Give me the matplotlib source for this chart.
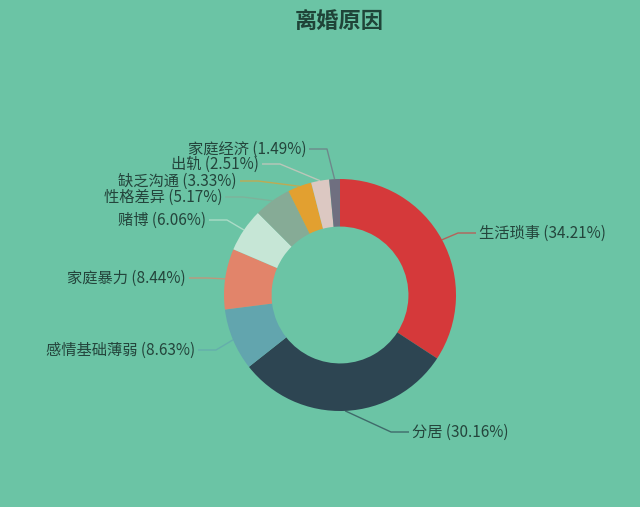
import matplotlib
matplotlib.use('Agg')
import matplotlib.pyplot as plt
import numpy as np

plt.rcParams['font.family'] = ['Noto Sans CJK SC', 'DejaVu Sans']

# data
reasons = ['生活琐事', '分居', '感情基础薄弱', '家庭暴力', '赌博',
           '性格差异', '缺乏沟通', '出轨', '家庭经济']
shares = [34.21, 30.16, 8.63, 8.44, 6.06, 5.17, 3.33, 2.51, 1.49]
colors = ['#d5393a', '#2d4552', '#62a5ae', '#e2846a', '#c6e6d6',
          '#86ab96', '#e2a030', '#dcc8c2', '#6f6f80']

# layout (pixels, origin top-left): text edge x, text centre y
label_pos = [(479, 233), (412, 432), (195, 350), (186, 278), (206, 220),
             (222, 197), (237, 181), (259, 164), (306, 149)]

W, H = 640, 507
bg = '#6bc4a5'
txt = '#24453c'
cx, cy, R = 340, 507 - 295, 116

fig = plt.figure(figsize=(W / 100, H / 100), dpi=100, facecolor=bg)
ax = fig.add_axes([0, 0, 1, 1])

wedges, _ = ax.pie(shares, colors=colors, startangle=90, counterclock=False,
                   center=(cx, cy), radius=R, frame=True,
                   wedgeprops=dict(width=R * 0.41, linewidth=0))
ax.set_xlim(0, W)
ax.set_ylim(0, H)
ax.set_aspect('equal')
ax.axis('off')

for w, name, val, col, (tx, ty) in zip(wedges, reasons, shares, colors, label_pos):
    ang = np.deg2rad((w.theta1 + w.theta2) / 2)
    ex, ey = cx + R * np.cos(ang), cy + R * np.sin(ang)
    ty = H - ty
    right = ex > cx
    d = 1 if right else -1
    end_x = tx - d * 3
    elbow_x = end_x - d * 18
    ax.plot([ex, elbow_x, end_x], [ey, ty, ty], color=col, lw=1, alpha=0.7,
            solid_capstyle='butt')
    ax.text(tx, ty, f'{name} ({val:.2f}%)', ha='left' if right else 'right',
            va='center', fontsize=11, color=txt)

fig.text(339 / W, 1 - 21 / H, '离婚原因', ha='center', va='center',
         fontsize=16, fontweight='bold', color='#1f4438')

fig.savefig('out.png', dpi=100, facecolor=bg)
